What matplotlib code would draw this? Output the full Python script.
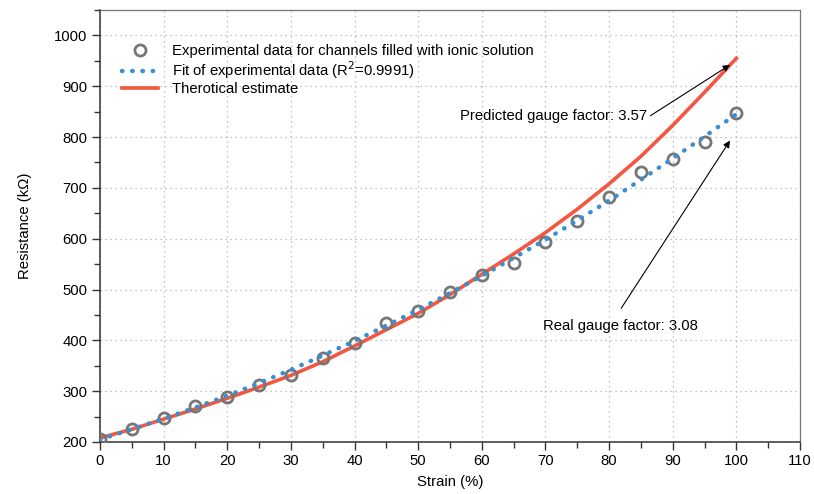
import matplotlib
matplotlib.use("Agg")
import matplotlib.pyplot as plt
from matplotlib.ticker import MultipleLocator

plt.rcParams['font.family'] = ['Liberation Sans', 'DejaVu Sans']

strain = [0, 5, 10, 15, 20, 25, 30, 35, 40, 45, 50, 55, 60, 65, 70, 75, 80, 85, 90, 95, 100]
resistance_exp = [206, 226, 247, 271, 289, 312, 332, 366, 395, 434, 458, 495, 529, 552, 594, 635, 683, 731, 757, 790, 847]
resistance_fit = [205, 225, 246, 268, 291, 316, 342, 370, 399, 429, 460, 493, 527, 562, 598, 636, 675, 716, 758, 801, 845]
resistance_theory = [208, 225, 245, 265, 286, 308, 331, 358, 389, 421, 453, 490, 530, 570, 612, 658, 708, 762, 823, 888, 955]

label_exp = "Experimental data for channels filled with ionic solution"
label_fit = "Fit of experimental data (R$^2$=0.9991)"
label_theory = "Therotical estimate"

FS = 10.7

fig = plt.figure(figsize=(8.14, 4.94), dpi=100)
ax = fig.add_axes([0.1229, 0.1053, 0.8599, 0.8745])

ax.plot(strain, resistance_exp, linestyle='none', marker='o', markersize=8,
        markerfacecolor='none', markeredgecolor='#767676', markeredgewidth=2,
        label=label_exp, zorder=3)
ax.plot(strain, resistance_fit, linestyle=(0, (0.1, 2.2)), dash_capstyle='round',
        color='#3a8fd0', linewidth=3.2, label=label_fit, zorder=4)
ax.plot(strain, resistance_theory, color='#f4563f', linewidth=2.6,
        label=label_theory, zorder=2)

ax.set_xlim(0, 110)
ax.set_ylim(200, 1050)
ax.xaxis.set_major_locator(MultipleLocator(10))
ax.xaxis.set_minor_locator(MultipleLocator(5))
ax.yaxis.set_major_locator(MultipleLocator(100))
ax.yaxis.set_minor_locator(MultipleLocator(50))
ax.set_yticks(range(200, 1001, 100))

ax.grid(True, which='major', linestyle=(0, (1, 3)), color='#b0b0b0', linewidth=0.9)
ax.tick_params(which='major', direction='out', length=6, width=1, color='#333333',
               labelsize=FS, pad=3)
ax.tick_params(which='minor', direction='out', length=4, width=1, color='#333333')

for s in ['left', 'bottom']:
    ax.spines[s].set_color('#333333')
    ax.spines[s].set_linewidth(1.1)
for s in ['top', 'right']:
    ax.spines[s].set_color('#777777')
    ax.spines[s].set_linewidth(0.9)

ax.set_xlabel("Strain (%)", fontsize=FS, labelpad=5)
ax.set_ylabel("Resistance (k\u03a9)", fontsize=FS, labelpad=16)

leg = ax.legend(loc='upper left', bbox_to_anchor=(0.01, 0.955), frameon=False,
                fontsize=FS, handlelength=2.4, handletextpad=1.0,
                labelspacing=0.08, borderaxespad=0.6)

ax.text(86.0, 842, "Predicted gauge factor: 3.57", ha='right', va='center', fontsize=FS)
ax.annotate("", xy=(99.0, 942), xytext=(86.5, 842),
            arrowprops=dict(arrowstyle='-|>', color='black', lw=0.8,
                            mutation_scale=10, shrinkA=0, shrinkB=0))

ax.text(81.8, 428, "Real gauge factor: 3.08", ha='center', va='center', fontsize=FS)
ax.annotate("", xy=(99.0, 793), xytext=(81.9, 463),
            arrowprops=dict(arrowstyle='-|>', color='black', lw=0.8,
                            mutation_scale=10, shrinkA=0, shrinkB=0))

fig.savefig("out.png", dpi=100)
